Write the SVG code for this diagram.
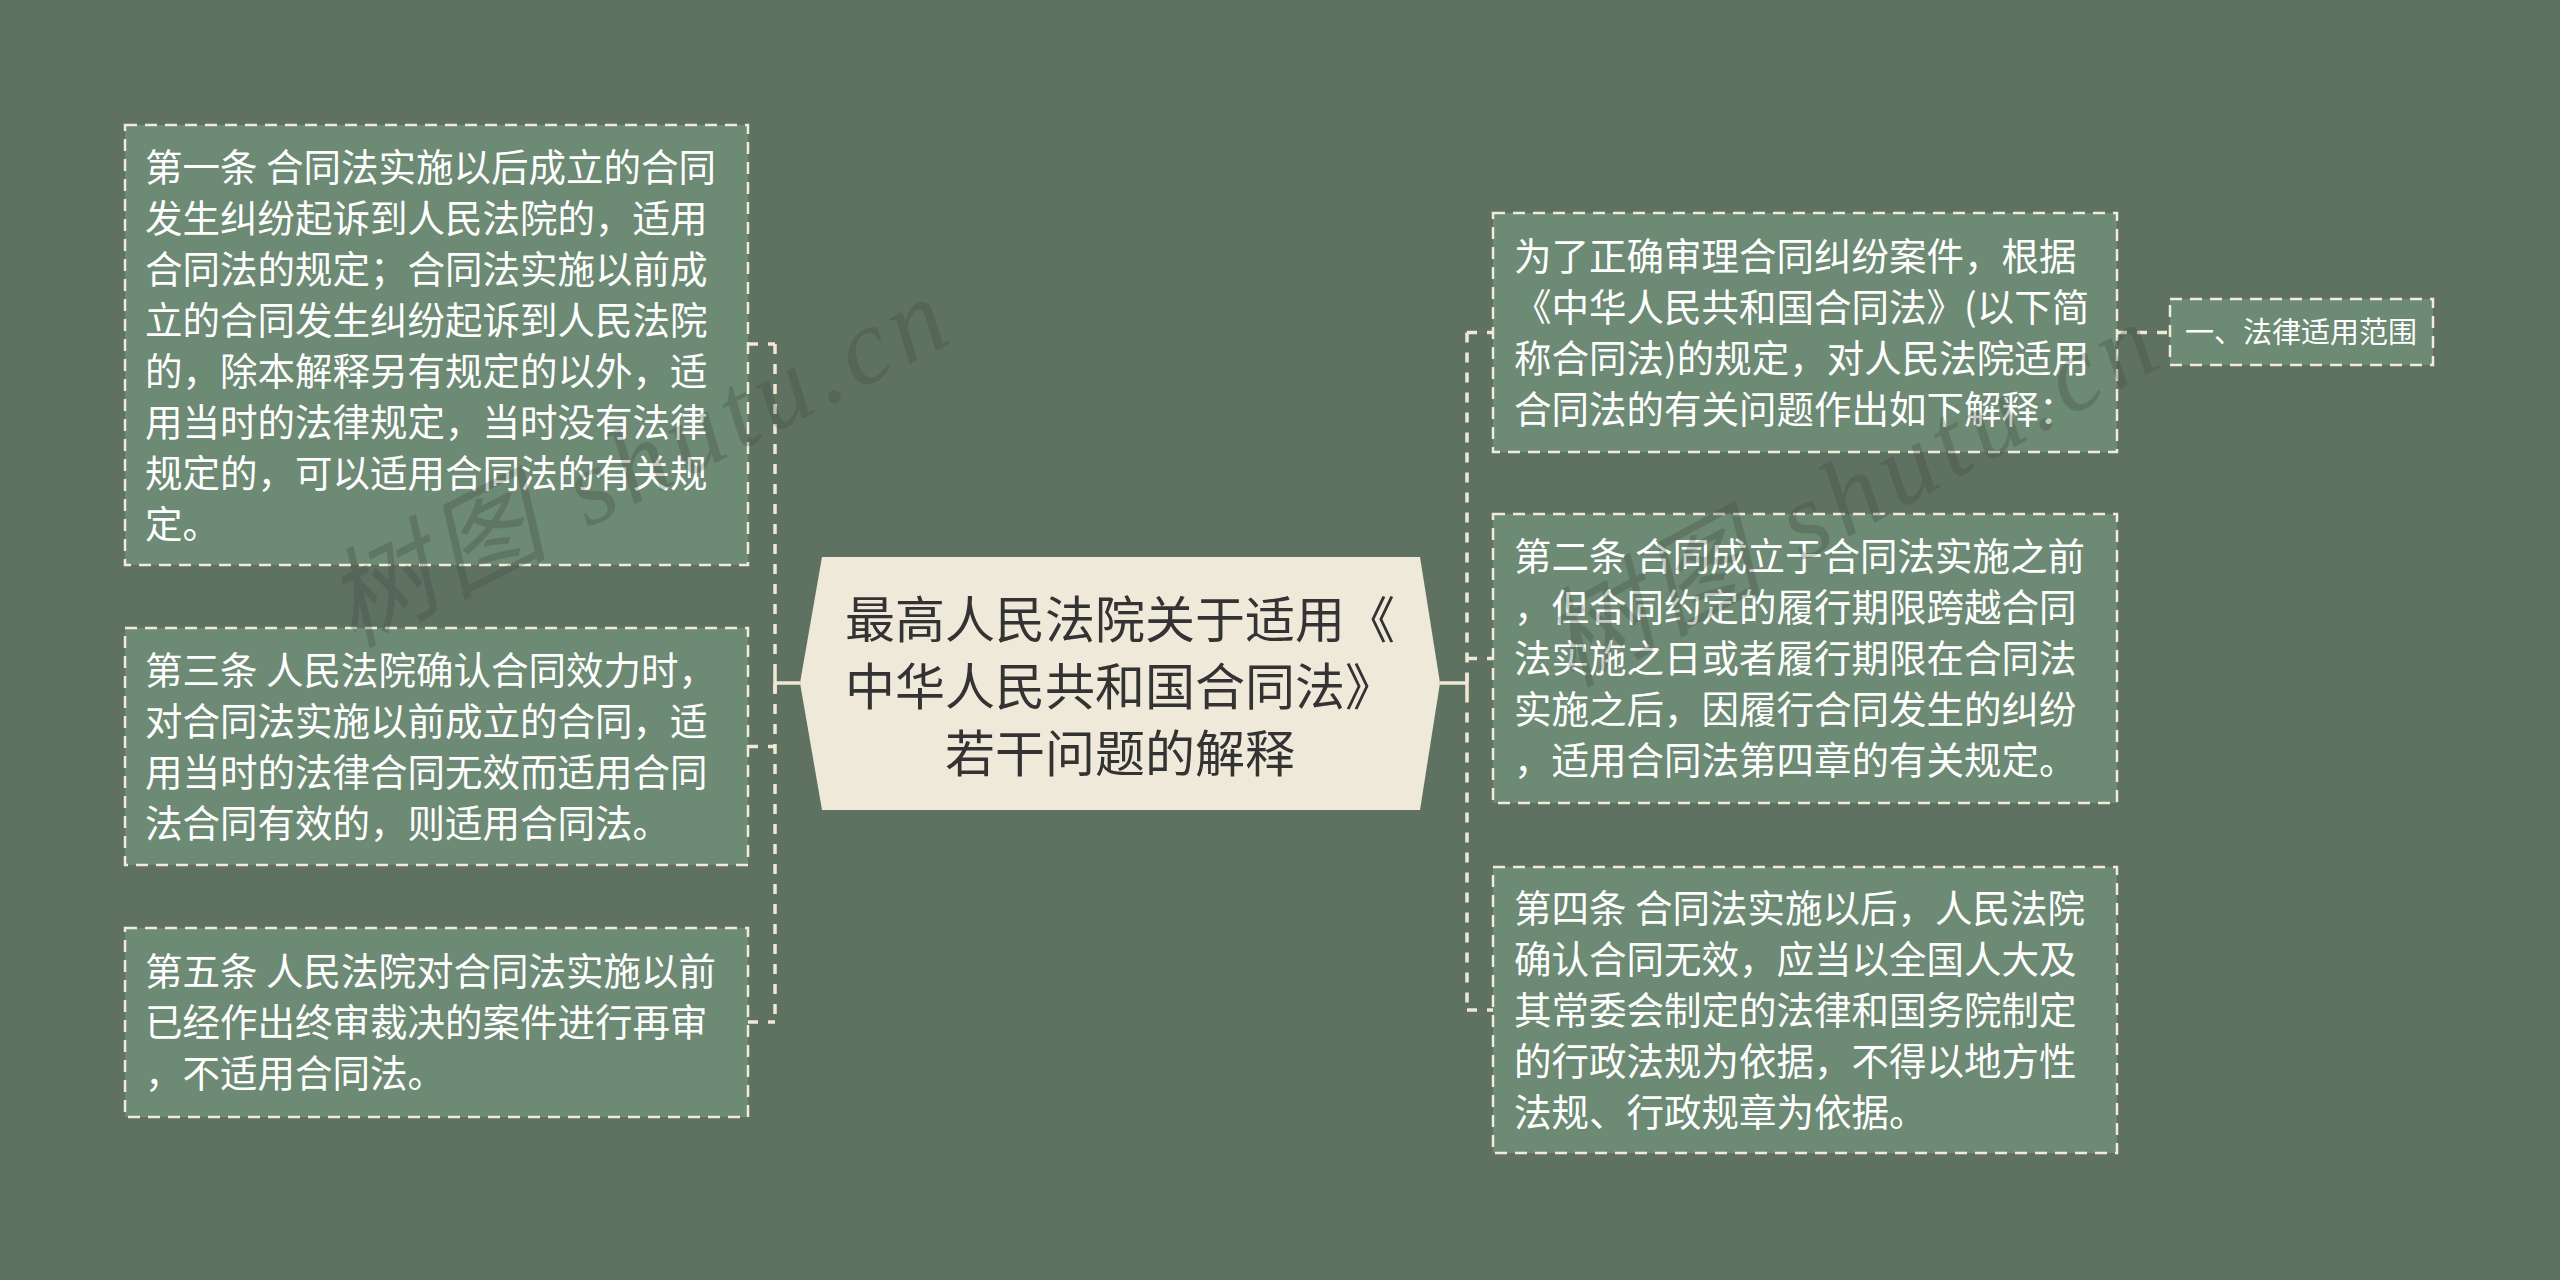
<svg xmlns="http://www.w3.org/2000/svg" width="2560" height="1280" viewBox="0 0 2560 1280">
<style>
.bg{fill:#5f7262}
.box{fill:#6d8a74;stroke:#f1ebd8;stroke-width:2.5;stroke-dasharray:12 8}
.t{font-family:"Noto Sans CJK SC","Noto Sans",sans-serif;font-size:37.5px;fill:#ffffff}
.lt{font-family:"Noto Sans CJK SC","Noto Sans",sans-serif;font-size:29px;fill:#ffffff}
.ct{font-family:"Noto Sans CJK SC","Noto Sans",sans-serif;font-size:50px;fill:#333333;text-anchor:middle}
.dash{fill:none;stroke:#efe8d3;stroke-width:3.5;stroke-dasharray:10 10}
.solid{fill:none;stroke:#efe8d3;stroke-width:3.5}
.wm{font-family:"Liberation Serif","Noto Sans CJK SC",serif;font-style:italic;font-size:108px;fill:#3c463e;opacity:0.28;letter-spacing:7px}
</style>
<rect class="bg" x="0" y="0" width="2560" height="1280"/>

<g id="connectors">
  <path class="dash" d="M775 344 V1022"/>
  <path class="dash" d="M748 344 H775"/>
  <path class="dash" d="M748 746.5 H775"/>
  <path class="dash" d="M748 1022 H775"/>
  <path class="solid" d="M775 683 H800 M775 673 V693"/>
  <path class="dash" d="M1467 332.5 V1010"/>
  <path class="dash" d="M1467 332.5 H1493"/>
  <path class="dash" d="M1467 658.5 H1493"/>
  <path class="dash" d="M1467 1010 H1493"/>
  <path class="solid" d="M1440 683 H1467 M1467 673 V693"/>
  <path class="dash" d="M2117 332.5 H2170"/>
</g>

<g id="center">
  <polygon points="800,683 822,557 1420,557 1440,683 1420,810 822,810" fill="#efe9d9"/>
  <text class="ct" x="1120" y="638">最高人民法院关于适用《</text>
  <text class="ct" x="1120" y="705">中华人民共和国合同法》</text>
  <text class="ct" x="1120" y="772">若干问题的解释</text>
</g>

<g id="node-1">
  <rect class="box" x="125" y="125" width="623" height="440"/>
  <text class="t" x="145" y="181">第一条 合同法实施以后成立的合同</text>
  <text class="t" x="145" y="232">发生纠纷起诉到人民法院的，适用</text>
  <text class="t" x="145" y="283">合同法的规定；合同法实施以前成</text>
  <text class="t" x="145" y="334">立的合同发生纠纷起诉到人民法院</text>
  <text class="t" x="145" y="385">的，除本解释另有规定的以外，适</text>
  <text class="t" x="145" y="436">用当时的法律规定，当时没有法律</text>
  <text class="t" x="145" y="487">规定的，可以适用合同法的有关规</text>
  <text class="t" x="145" y="538">定。</text>
</g>

<g id="node-3">
  <rect class="box" x="125" y="628" width="623" height="237"/>
  <text class="t" x="145" y="684">第三条 人民法院确认合同效力时，</text>
  <text class="t" x="145" y="735">对合同法实施以前成立的合同，适</text>
  <text class="t" x="145" y="786">用当时的法律合同无效而适用合同</text>
  <text class="t" x="145" y="837">法合同有效的，则适用合同法。</text>
</g>

<g id="node-5">
  <rect class="box" x="125" y="928" width="623" height="189"/>
  <text class="t" x="145" y="985">第五条 人民法院对合同法实施以前</text>
  <text class="t" x="145" y="1036">已经作出终审裁决的案件进行再审</text>
  <text class="t" x="145" y="1087">，不适用合同法。</text>
</g>

<g id="node-intro">
  <rect class="box" x="1493" y="213" width="624" height="239"/>
  <text class="t" x="1514" y="270">为了正确审理合同纠纷案件，根据</text>
  <text class="t" x="1514" y="321">《中华人民共和国合同法》(以下简</text>
  <text class="t" x="1514" y="372">称合同法)的规定，对人民法院适用</text>
  <text class="t" x="1514" y="423">合同法的有关问题作出如下解释：</text>
</g>

<g id="node-scope">
  <rect class="box" x="2170" y="299" width="263" height="66"/>
  <text class="lt" x="2185" y="343">一、法律适用范围</text>
</g>

<g id="node-2">
  <rect class="box" x="1493" y="514" width="624" height="289"/>
  <text class="t" x="1514" y="570">第二条 合同成立于合同法实施之前</text>
  <text class="t" x="1514" y="621">，但合同约定的履行期限跨越合同</text>
  <text class="t" x="1514" y="672">法实施之日或者履行期限在合同法</text>
  <text class="t" x="1514" y="723">实施之后，因履行合同发生的纠纷</text>
  <text class="t" x="1514" y="774">，适用合同法第四章的有关规定。</text>
</g>

<g id="node-4">
  <rect class="box" x="1493" y="867" width="624" height="286"/>
  <text class="t" x="1514" y="922">第四条 合同法实施以后，人民法院</text>
  <text class="t" x="1514" y="973">确认合同无效，应当以全国人大及</text>
  <text class="t" x="1514" y="1024">其常委会制定的法律和国务院制定</text>
  <text class="t" x="1514" y="1075">的行政法规为依据，不得以地方性</text>
  <text class="t" x="1514" y="1126">法规、行政规章为依据。</text>
</g>

<g id="watermarks">
  <text class="wm" transform="translate(352 648) rotate(-27)">树图 shutu.cn</text>
  <text class="wm" transform="translate(1570 688) rotate(-28.5)">树图 shutu.cn</text>
</g>
</svg>
